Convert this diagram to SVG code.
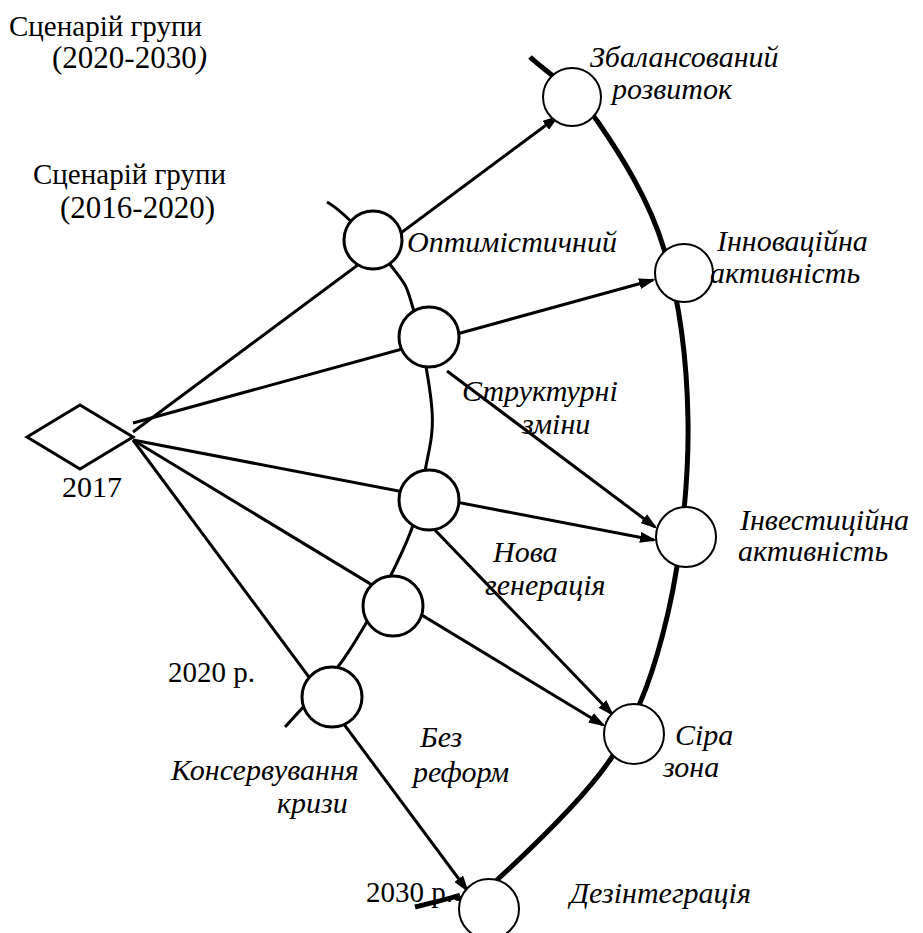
<svg xmlns="http://www.w3.org/2000/svg" width="923" height="933" viewBox="0 0 923 933" font-family="Liberation Serif, DejaVu Serif, serif" font-size="29">
  <defs>
    <marker id="arrow" markerUnits="userSpaceOnUse" markerWidth="17" markerHeight="11" refX="14" refY="5.5" orient="auto">
      <path d="M0,0 L17,5.5 L0,11 Z" fill="#000"/>
    </marker>
    <style>
      .bg { fill: #fff; }
      .yr { font-size: 31px; }
      .it { font-style: italic; font-size: 30px; }
      .arr { stroke: #000; stroke-width: 3; fill: none; marker-end: url(#arrow); }
      .arc2020 { stroke: #000; stroke-width: 3; fill: none; }
      .arc2030 { stroke: #000; stroke-width: 5; fill: none; }
      .node1 { fill: #fff; stroke: #000; stroke-width: 3; }
      .node2 { fill: #fff; stroke: #000; stroke-width: 2; }
      .start { fill: #fff; stroke: #000; stroke-width: 3; }
    </style>
  </defs>

  <rect class="bg" x="0" y="0" width="923" height="933"/>

  <!-- headings -->
  <g id="headings">
    <text x="9" y="36">Сценарій групи</text>
    <text class="yr" x="52" y="68">(2020-2030<tspan font-style="italic">)</tspan></text>
    <text x="33" y="184">Сценарій групи</text>
    <text class="yr" x="60" y="218">(2016-2020)</text>
    <text x="168" y="682">2020 р.</text>
    <text x="366" y="902">2030 р.</text>
  </g>

  <!-- connectors: scenario arcs, branches and arrows -->
  <g id="connectors">
    <!-- 2030 horizon -->
    <path class="arc2030" d="M530,57 C541,68 576,90 598,122 C620,154 649,199 664,249 C679,299 687,359 688,420 C689,481 681,557 668,613 C655,669 640,712 612,757 C583,801 522,857 497,880 C472,903 446,900 460,895 M460,895 C446,900 422,905 415,907"/>
    <!-- 2020 horizon -->
    <path class="arc2020" d="M327,202 C345,212 378,249 392,267 C406,285 406,284 413,308 C420,332 430,383 432,410 C434,437 428,452 425,472 C422,492 418,510 412,528 C406,545 398,561 390,577 C382,593 374,610 365,625 C356,640 350,651 337,668 C324,685 294,717 285,727"/>
    <!-- branches from 2017 -->
    <line class="arr" x1="133" y1="432" x2="557" y2="117"/>
    <line class="arr" x1="133" y1="423" x2="653" y2="280"/>
    <line class="arr" x1="133" y1="440" x2="654" y2="540"/>
    <line class="arr" x1="133" y1="440" x2="603" y2="725"/>
    <line class="arr" x1="133" y1="440" x2="467" y2="890"/>
    <!-- cross transitions -->
    <line class="arr" x1="447" y1="371" x2="655" y2="527"/>
    <line class="arr" x1="433" y1="528" x2="612" y2="714"/>
  </g>

  <!-- start point -->
  <g id="start-2017">
    <polygon class="start" points="27,437 80,405 133,437 80,469"/>
    <text x="62" y="497" font-size="30">2017</text>
  </g>

  <!-- 2020 scenarios -->
  <g id="optimistic">
    <circle class="node1" cx="373" cy="240" r="29"/>
    <text class="it" x="407" y="252">Оптимістичний</text>
  </g>
  <g id="structural">
    <circle class="node1" cx="429" cy="337" r="30"/>
    <text class="it" x="462" y="401">Структурні</text>
    <text class="it" x="522" y="434">зміни</text>
  </g>
  <g id="new-generation">
    <circle class="node1" cx="429" cy="500" r="30"/>
    <text class="it" x="493" y="562">Нова</text>
    <text class="it" x="485" y="595">генерація</text>
  </g>
  <g id="no-reforms">
    <circle class="node1" cx="393" cy="606" r="30"/>
    <text class="it" x="420" y="747">Без</text>
    <text class="it" x="413" y="782">реформ</text>
  </g>
  <g id="crisis">
    <circle class="node1" cx="332" cy="697" r="30"/>
    <text class="it" x="171" y="780">Консервування</text>
    <text class="it" x="277" y="813">кризи</text>
  </g>

  <!-- 2030 scenarios -->
  <g id="balanced">
    <circle class="node2" cx="572" cy="97" r="29"/>
    <text class="it" x="590" y="67">Збалансований</text>
    <text class="it" x="612" y="99">розвиток</text>
  </g>
  <g id="innovation">
    <circle class="node2" cx="684" cy="273" r="29"/>
    <text class="it" x="717" y="251">Інноваційна</text>
    <text class="it" x="710" y="283">активність</text>
  </g>
  <g id="investment">
    <circle class="node2" cx="686" cy="537" r="30"/>
    <text class="it" x="740" y="530">Інвестиційна</text>
    <text class="it" x="738" y="561">активність</text>
  </g>
  <g id="grey-zone">
    <circle class="node2" cx="634" cy="734" r="30"/>
    <text class="it" x="675" y="745">Сіра</text>
    <text class="it" x="663" y="777">зона</text>
  </g>
  <g id="disintegration">
    <circle class="node2" cx="489" cy="909" r="30"/>
    <text class="it" x="570" y="903">Дезінтеграція</text>
  </g>
</svg>
